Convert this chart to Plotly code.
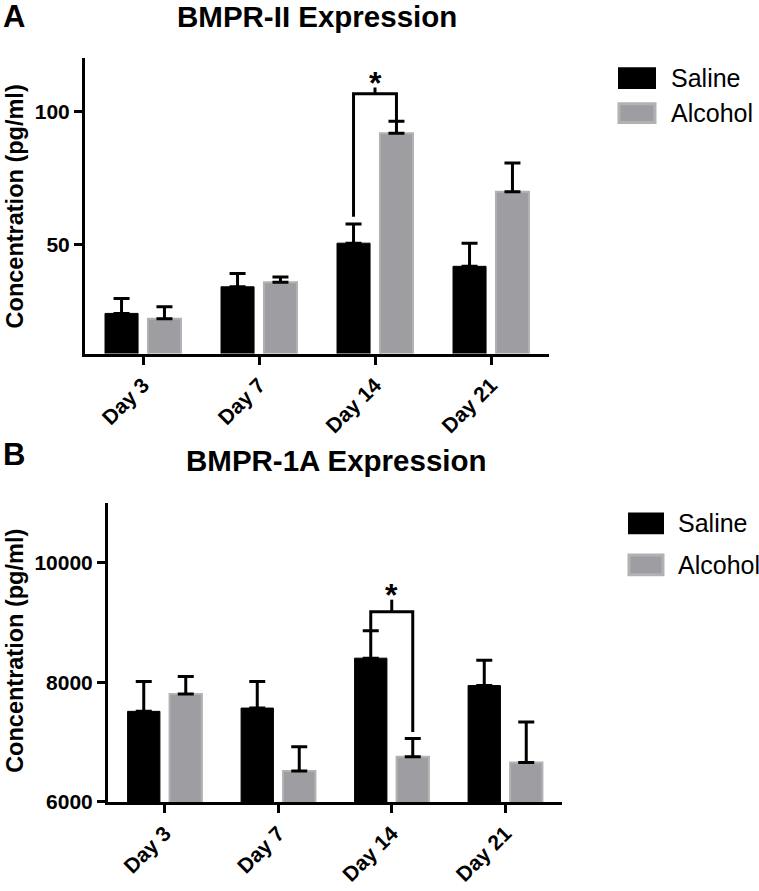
import plotly.graph_objects as go

W, H = 759, 891
FONT = "Liberation Sans, Arial, Helvetica, sans-serif"

days = ["Day 3", "Day 7", "Day 14", "Day 21"]
day_pos = [0, 1, 2, 3]

# Panel A: BMPR-II (pg/ml)
a_saline = [24.1, 34.1, 50.5, 41.8]
a_saline_err = [5.6, 5.0, 7.2, 8.7]
a_alcohol = [22.1, 35.8, 91.8, 69.8]
a_alcohol_err = [4.5, 2.0, 4.5, 10.8]
a_range = [9, 120]
a_ticks = [50, 100]
a_ticktext = ["50", "100"]

# Panel B: BMPR-1A (pg/ml)
b_saline = [7514, 7569, 8403, 7945]
b_saline_err = [498, 443, 457, 425]
b_alcohol = [7806, 6518, 6755, 6661]
b_alcohol_err = [289, 403, 304, 675]
b_range = [6000, 11000]
b_ticks = [6000, 8000, 10000]
b_ticktext = ["6000", "8000", "10000"]

# significance brackets (day index, bracket height, left leg end, right leg end, tick height)
a_sig = dict(day=2, top=106.7, left_end=60.4, right_end=96.3, tick=2.3)
b_sig = dict(day=2, top=9180, left_end=8870, right_end=7170, tick=200)

SAL_COLOR = "black"
ALC_FILL = "#9e9ea2"
ALC_LINE = "#b2b2b4"

BARGAP = 0.26
BARGROUPGAP = 0.23
HALF = (1 - BARGAP) / 4  # offset of each bar centre from group centre

fig = go.Figure()

def add_bars(xa, ya, sal, sal_err, alc, alc_err):
    fig.add_trace(go.Bar(
        x=day_pos, y=sal, name="Saline", xaxis=xa, yaxis=ya,
        marker=dict(color=SAL_COLOR, line=dict(color="black", width=1)),
        error_y=dict(type="data", array=sal_err, arrayminus=[0] * 4, symmetric=False,
                     color="black", thickness=3, width=8),
        showlegend=False))
    fig.add_trace(go.Bar(
        x=day_pos, y=alc, name="Alcohol", xaxis=xa, yaxis=ya,
        marker=dict(color=ALC_FILL, line=dict(color=ALC_LINE, width=2)),
        error_y=dict(type="data", array=alc_err, arrayminus=[0] * 4, symmetric=False,
                     color="black", thickness=3, width=8),
        showlegend=False))

add_bars("x", "y", a_saline, a_saline_err, a_alcohol, a_alcohol_err)
add_bars("x2", "y2", b_saline, b_saline_err, b_alcohol, b_alcohol_err)

def px_x(p):
    return p / W

def px_y(p):
    return 1 - p / H

axis_common = dict(showline=True, linewidth=3, linecolor="black", ticks="outside",
                   ticklen=8, tickwidth=3, tickcolor="black", showgrid=False, zeroline=False,
                   tickfont=dict(family=FONT, size=21, color="black", weight="bold"))

fig.update_layout(
    width=W, height=H, margin=dict(l=0, r=0, t=0, b=0),
    paper_bgcolor="white", plot_bgcolor="white",
    barmode="group", bargap=BARGAP, bargroupgap=BARGROUPGAP,
    xaxis=dict(domain=[px_x(85), px_x(549)], range=[-0.5, 3.5], anchor="y",
               tickvals=day_pos, ticktext=days, tickangle=-45, **axis_common),
    yaxis=dict(domain=[px_y(358), px_y(59)], range=a_range, anchor="x",
               tickvals=a_ticks, ticktext=a_ticktext, **axis_common),
    xaxis2=dict(domain=[px_x(108), px_x(562)], range=[-0.5, 3.5], anchor="y2",
                tickvals=day_pos, ticktext=days, tickangle=-45, **axis_common),
    yaxis2=dict(domain=[px_y(812), px_y(509)], range=b_range, anchor="x2",
                tickvals=b_ticks, ticktext=b_ticktext, **axis_common),
)

shapes = []
annotations = []

def add_sig(sig, xr, yr):
    xl = sig["day"] - HALF
    xrt = sig["day"] + HALF
    xc = sig["day"]
    path = (f"M {xl},{sig['left_end']} L {xl},{sig['top']} L {xrt},{sig['top']} "
            f"L {xrt},{sig['right_end']}")
    shapes.append(dict(type="path", path=path, xref=xr, yref=yr,
                       line=dict(color="black", width=3)))
    shapes.append(dict(type="line", x0=xc, x1=xc, y0=sig["top"], y1=sig["top"] + sig["tick"],
                       xref=xr, yref=yr, line=dict(color="black", width=3)))
    annotations.append(dict(text="<b>*</b>", x=xc, y=sig["top"] + sig["tick"], xref=xr, yref=yr,
                            showarrow=False, yanchor="bottom", yshift=-15,
                            font=dict(family=FONT, size=32, color="black")))

add_sig(a_sig, "x", "y")
add_sig(b_sig, "x2", "y2")

def add_legend(x0, x1, y_sal, y_alc, tx):
    shapes.append(dict(type="rect", xref="paper", yref="paper",
                       x0=px_x(x0), x1=px_x(x1), y0=px_y(y_sal[1]), y1=px_y(y_sal[0]),
                       fillcolor=SAL_COLOR, line=dict(width=0)))
    shapes.append(dict(type="rect", xref="paper", yref="paper",
                       x0=px_x(x0 + 1), x1=px_x(x1 - 1), y0=px_y(y_alc[1] - 1), y1=px_y(y_alc[0] + 1),
                       fillcolor=ALC_FILL, line=dict(color=ALC_LINE, width=3)))
    for label, yy in (("Saline", y_sal), ("Alcohol", y_alc)):
        annotations.append(dict(text=label, xref="paper", yref="paper", x=px_x(tx),
                                y=px_y((yy[0] + yy[1]) / 2), xanchor="left", yanchor="middle",
                                showarrow=False, font=dict(family=FONT, size=25, color="black")))

add_legend(618, 656, (68, 90), (104, 125), 669)
add_legend(628, 664, (519, 541), (561, 583), 676)

def add_text(text, x, y, size, angle=0, anchor="center"):
    annotations.append(dict(text=text, xref="paper", yref="paper", x=px_x(x), y=px_y(y),
                            xanchor=anchor, yanchor="middle", showarrow=False, textangle=angle,
                            font=dict(family=FONT, size=size, color="black", weight="bold")))

add_text("BMPR-II Expression", 317, 17, 29.5)
add_text("BMPR-1A Expression", 336, 466, 29.5)
add_text("A", 1, 17, 31, anchor="left")
add_text("B", 1, 460, 31, anchor="left")
add_text("Concentration (pg/ml)", 15, 209, 23.5, angle=-90)
add_text("Concentration (pg/ml)", 15, 659, 23.5, angle=-90)

fig.update_layout(shapes=shapes, annotations=annotations)

fig.write_html("out.html", config={"displayModeBar": False},
               post_script="document.body.style.margin='0';")
